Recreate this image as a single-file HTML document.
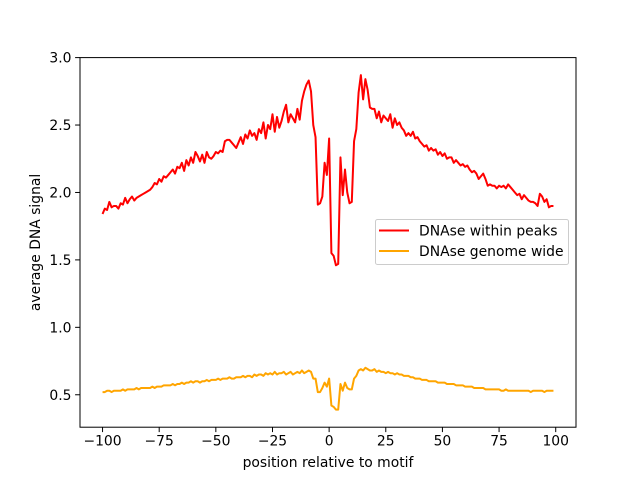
<!DOCTYPE html>
<html><head><meta charset="utf-8"><style>
html,body{margin:0;padding:0;background:#fff;}
svg{display:block;font-family:"DejaVu Sans","Liberation Sans",sans-serif;}
</style></head><body>
<svg id="chart" width="640" height="480" viewBox="0 0 640 480" xmlns="http://www.w3.org/2000/svg"></svg>
<script>
const xStart = -100;
const peaksSeries = [
1.84,1.88,1.87,1.93,1.89,1.90,1.90,1.88,1.92,1.91,
1.96,1.92,1.95,1.97,1.94,1.96,1.97,1.98,1.99,2.00,
2.01,2.02,2.04,2.07,2.06,2.10,2.08,2.12,2.11,2.13,
2.15,2.17,2.14,2.19,2.18,2.22,2.16,2.24,2.20,2.26,
2.22,2.30,2.27,2.23,2.28,2.22,2.30,2.26,2.25,2.27,
2.30,2.29,2.31,2.30,2.38,2.39,2.39,2.37,2.35,2.33,
2.37,2.41,2.36,2.43,2.40,2.46,2.42,2.44,2.39,2.47,
2.44,2.52,2.40,2.50,2.47,2.58,2.45,2.56,2.48,2.53,
2.60,2.65,2.52,2.58,2.55,2.52,2.62,2.54,2.68,2.75,
2.80,2.83,2.75,2.50,2.41,1.91,1.92,1.97,2.22,2.13,
2.40,1.55,1.53,1.46,1.47,2.26,1.98,2.17,2.00,1.92,
1.93,2.38,2.47,2.74,2.87,2.69,2.84,2.76,2.63,2.62,
2.62,2.55,2.60,2.52,2.57,2.55,2.53,2.58,2.48,2.55,
2.50,2.52,2.48,2.46,2.42,2.44,2.42,2.45,2.40,2.41,
2.38,2.36,2.34,2.35,2.31,2.33,2.31,2.32,2.28,2.30,
2.27,2.29,2.25,2.26,2.26,2.22,2.24,2.22,2.20,2.21,
2.19,2.20,2.17,2.15,2.16,2.14,2.10,2.12,2.14,2.10,
2.05,2.06,2.05,2.05,2.03,2.05,2.04,2.05,2.03,2.06,
2.04,2.02,2.00,1.98,1.99,1.95,1.98,1.96,1.94,1.93,
1.93,1.92,1.90,1.99,1.97,1.93,1.95,1.89,1.90,1.90];
const genomeSeries = [
0.52,0.52,0.53,0.53,0.52,0.53,0.53,0.53,0.53,0.54,
0.53,0.54,0.54,0.54,0.54,0.55,0.54,0.55,0.55,0.55,
0.55,0.55,0.56,0.55,0.56,0.56,0.56,0.57,0.57,0.57,
0.57,0.58,0.57,0.58,0.58,0.59,0.58,0.59,0.59,0.60,
0.59,0.60,0.60,0.59,0.60,0.60,0.61,0.60,0.61,0.61,
0.61,0.62,0.61,0.62,0.62,0.62,0.63,0.62,0.62,0.63,
0.63,0.63,0.64,0.63,0.64,0.64,0.63,0.65,0.64,0.65,
0.65,0.64,0.66,0.65,0.66,0.65,0.67,0.65,0.66,0.66,
0.67,0.65,0.66,0.67,0.65,0.66,0.67,0.66,0.68,0.66,
0.67,0.68,0.67,0.62,0.62,0.52,0.52,0.55,0.59,0.56,
0.62,0.42,0.41,0.39,0.39,0.58,0.53,0.59,0.55,0.54,
0.54,0.62,0.64,0.68,0.69,0.68,0.70,0.69,0.68,0.68,
0.69,0.67,0.68,0.67,0.67,0.66,0.67,0.66,0.66,0.65,
0.66,0.65,0.65,0.64,0.64,0.64,0.63,0.63,0.62,0.62,
0.62,0.61,0.61,0.61,0.60,0.60,0.60,0.60,0.59,0.59,
0.59,0.59,0.58,0.58,0.58,0.58,0.57,0.57,0.57,0.57,
0.56,0.56,0.56,0.56,0.55,0.55,0.55,0.55,0.55,0.54,
0.54,0.54,0.54,0.54,0.54,0.54,0.53,0.53,0.54,0.53,
0.53,0.53,0.53,0.53,0.53,0.53,0.53,0.53,0.53,0.52,
0.53,0.53,0.53,0.53,0.53,0.52,0.53,0.53,0.53,0.53];
const xTicks = [-100,-75,-50,-25,0,25,50,75,100];
const yTicks = [0.5,1.0,1.5,2.0,2.5,3.0];
const yTickLabels = ["0.5","1.0","1.5","2.0","2.5","3.0"];
const seriesNames = ["DNAse within peaks","DNAse genome wide"];

const L=80,R=576,T=57.6,B=427.2,FS=13.9;
const xMin=-109.95,xMax=108.95,yMin=0.2595,yMax=3.0;
function sx(v){return L+(v-xMin)/(xMax-xMin)*(R-L);}
function sy(v){return B-(v-yMin)/(yMax-yMin)*(B-T);}
const NS="http://www.w3.org/2000/svg";
const svg=document.getElementById('chart');
function mk(tag,attrs,parent){const e=document.createElementNS(NS,tag);for(const k in attrs)e.setAttribute(k,attrs[k]);(parent||svg).appendChild(e);return e;}

function drawLine(data,color,name){
  const pts=data.map((v,i)=>sx(xStart+i).toFixed(2)+","+sy(v).toFixed(2)).join(" ");
  const p=mk('polyline',{points:pts,fill:"none",stroke:color,"stroke-width":2,"stroke-linejoin":"round"});
  
  
}
drawLine(peaksSeries,"#ff0000","line-within-peaks");
drawLine(genomeSeries,"#ffa500","line-genome-wide");

const frame=mk('rect',{x:L,y:T,width:R-L,height:B-T,fill:"none",stroke:"#000","stroke-width":1});



xTicks.forEach(t=>{
  const x=sx(t);
  const tk=mk('line',{x1:x,x2:x,y1:B,y2:B+4.9,stroke:"#000","stroke-width":1});
  
  
  const tx=mk('text',{x:x,y:B+18.5,"text-anchor":"middle","font-size":FS,fill:"#000"});
  tx.textContent=String(t).replace('-','\u2212');
  
  
});
yTicks.forEach((t,i)=>{
  const y=sy(t);
  const tk=mk('line',{x1:L-4.9,x2:L,y1:y,y2:y,stroke:"#000","stroke-width":1});
  
  
  const tx=mk('text',{x:L-8.5,y:y+5,"text-anchor":"end","font-size":FS,fill:"#000"});
  tx.textContent=yTickLabels[i];
  
  
});
const xt=mk('text',{x:(L+R)/2,y:467,"text-anchor":"middle","font-size":FS,fill:"#000"});
xt.textContent="position relative to motif";


const yt=mk('text',{x:0,y:0,"text-anchor":"middle","font-size":FS,fill:"#000",transform:"translate(40,"+((T+B)/2)+") rotate(-90)"});
yt.textContent="average DNA signal";



const lg=mk('g',{});


mk('rect',{x:375.5,y:219.5,width:193,height:45,rx:2,fill:"#fff","fill-opacity":0.8,stroke:"#ccc","stroke-width":1},lg);
const colors=["#ff0000","#ffa500"];
seriesNames.forEach((n,i)=>{
  const y=230.5+i*20.5;
  const ln=mk('line',{x1:379,x2:409,y1:y,y2:y,stroke:colors[i],"stroke-width":2},lg);
  
  
  const tx=mk('text',{x:419,y:y+5,"font-size":FS,fill:"#000"},lg);
  tx.textContent=n;
  
  
});
</script>
</body></html>
